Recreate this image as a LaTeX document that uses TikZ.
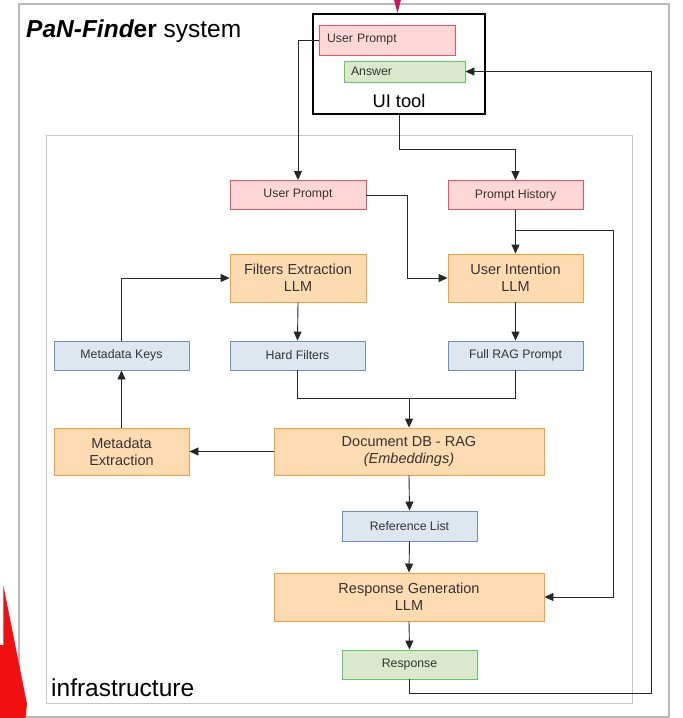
\documentclass[tikz,border=0pt]{standalone}
\usepackage{fontspec}
\setmainfont{Liberation Sans}
\usetikzlibrary{arrows.meta}

\definecolor{redfill}{HTML}{FFD7D7}
\definecolor{redline}{HTML}{F0505E}
\definecolor{orfill}{HTML}{FFDBB2}
\definecolor{orline}{HTML}{FF9C33}
\definecolor{bluefill}{HTML}{DEE6F0}
\definecolor{blueline}{HTML}{6C8EBF}
\definecolor{grfill}{HTML}{DCE8CC}
\definecolor{grline}{HTML}{5CC86A}
\definecolor{txt}{HTML}{333333}

\tikzset{
  box/.style={draw, line width=0.9pt, inner sep=0pt, text=txt,
    font=\fontsize{12.3}{14}\selectfont},
  prompt/.style={box, fill=redfill, draw=redline},
  llm/.style={box, fill=orfill, draw=orline, align=center,
    font=\fontsize{14.5}{17}\selectfont},
  data/.style={box, fill=bluefill, draw=blueline},
  result/.style={box, fill=grfill, draw=grline},
  link/.style={line width=0.9pt, draw=black!85, -{Stealth[inset=0pt,length=9pt,width=8pt]}},
  wire/.style={line width=0.9pt, draw=black!85},
}

\begin{document}
\begin{tikzpicture}[x=1pt,y=-1pt]
  \useasboundingbox (0,0) rectangle (683,718);
  % frames
  \draw[line width=1.4pt, draw=black!27] (19,4) rectangle (669,717);
  \draw[line width=1pt, draw=black!22] (46,135) rectangle (632,703);
  \node[anchor=base west, inner sep=0pt, font=\fontsize{24.5}{28}\selectfont] (title) at (26,37)
    {{\bfseries\itshape PaN-Find}{\bfseries er} system};
  \node[anchor=base west, inner sep=0pt, font=\fontsize{24.5}{28}\selectfont] (infra) at (51,696) {infrastructure};

  % UI tool
  \node[draw, line width=2.4pt, minimum width=172pt, minimum height=100pt, inner sep=0pt] (ui) at (399,64) {};
  \node[anchor=base, font=\fontsize{18.3}{20}\selectfont] (uilabel) at (399,107) {UI tool};
  \node[prompt, minimum height=30pt, text width=120pt, inner xsep=8pt, align=left] (upui) at (387,40) {User Prompt};
  \node[result, minimum height=21pt, text width=107pt, inner xsep=7pt, align=left] (answer) at (404.5,71.5) {Answer};

  % infrastructure
  \node[prompt, minimum width=136pt, minimum height=29pt] (up) at (298,195) {User Prompt};
  \node[prompt, minimum width=135pt, minimum height=29pt] (hist) at (515.5,195) {Prompt History};
  \node[llm, minimum width=136pt, minimum height=48pt] (filt) at (298,278) {Filters Extraction\\LLM};
  \node[llm, minimum width=135pt, minimum height=48pt] (intent) at (515.5,278) {User Intention\\LLM};
  \node[data, minimum width=135pt, minimum height=29pt] (keys) at (121.5,355.5) {Metadata Keys};
  \node[data, minimum width=135pt, minimum height=29pt] (hard) at (297.5,355.5) {Hard Filters};
  \node[data, minimum width=135pt, minimum height=29pt] (rag) at (515.5,355.5) {Full RAG Prompt};
  \node[llm, minimum width=135pt, minimum height=47pt] (mext) at (121.5,451.5) {Metadata\\Extraction};
  \node[llm, minimum width=270pt, minimum height=47pt] (docdb) at (409,451.5) {Document DB - RAG\\\textit{(Embeddings)}};
  \node[data, minimum width=135pt, minimum height=30pt] (refs) at (409.5,526) {Reference List};
  \node[llm, minimum width=270pt, minimum height=48pt] (gen) at (409,597) {Response Generation\\LLM};
  \node[result, minimum width=135pt, minimum height=29pt] (resp) at (409.5,664.5) {Response};

  \coordinate (split) at ([yshift=-20pt]hist.south);
  \coordinate (merge) at ([yshift=29pt]docdb.north);

  % connectors
  \draw[link] (upui.west) -| (up.north);
  \draw[link] (ui.south) -- ++(0,34) -| (hist.north);
  \draw[link] (up.east) -- ++(41,0) |- (intent.west);
  \draw[link] (hist.south) -- (intent.north);
  \draw[link] (split) -- ++(97.5,0) |- (gen.east);
  \draw[link] (filt.south) -- (hard.north);
  \draw[link] (intent.south) -- (rag.north);
  \draw[wire] (hard.south) |- (merge);
  \draw[wire] (rag.south) |- (merge);
  \draw[link] (merge) -- (docdb.north);
  \draw[link] (docdb.west) -- (mext.east);
  \draw[link] (mext.north) -- (keys.south);
  \draw[link] (keys.north) |- (filt.west);
  \draw[link] (docdb.south) -- (refs.north);
  \draw[link] (refs.south) -- (gen.north);
  \draw[link] (gen.south) -- (resp.north);
  \draw[link] (resp.south) -- ++(0,14) -- ++(241.5,0) |- (answer.east);

  % cut-off red marks
  \fill[fill={rgb,255:red,208;green,20;blue,90}] (394,0) -- (401,0) -- (397.5,13) -- cycle;
  \fill[fill={rgb,255:red,240;green,16;blue,16}] (0,645) -- (3.3,645) -- (3.3,585) -- (27,704) -- (25.5,718) -- (0,718) -- cycle;
\end{tikzpicture}
\end{document}
